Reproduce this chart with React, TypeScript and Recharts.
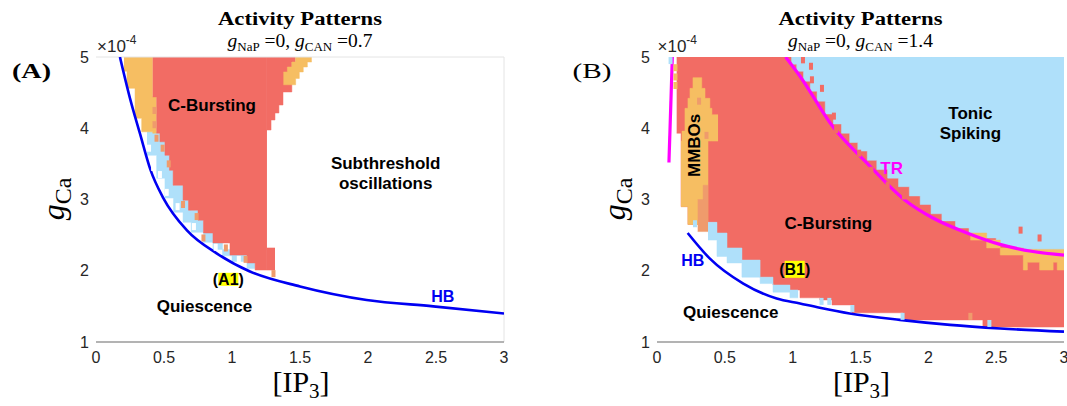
import {
    ComposedChart,
    Area,
    Line,
    Scatter,
    XAxis,
    YAxis,
    ReferenceDot,
    ReferenceLine,
} from 'recharts'

type Band = { x: number; r: [number, number] }
type Pt = { x: number; y: number }

const SANS = "'Liberation Sans', Arial, Helvetica, sans-serif"
const SERIF = "'Liberation Serif', 'DejaVu Serif', 'Times New Roman', serif"

const RED = '#f26c64'
const ORANGE = '#f6be62'
const DARK_ORANGE = '#ef9b6c'
const SKY = '#afe0fa'
const HB_BLUE = '#0000f2'
const MAGENTA = '#ff00ff'

const ipTicks = [0, 0.5, 1, 1.5, 2, 2.5, 3]
const gcaTicks = [1, 2, 3, 4, 5]

// ---- panel A: gCAN = 0.7 ----
const hbA: Pt[] = [
    { x: 0.176, y: 5.0 },
    { x: 0.25, y: 4.42 },
    { x: 0.324, y: 3.92 },
    { x: 0.4, y: 3.42 },
    { x: 0.495, y: 3.02 },
    { x: 0.667, y: 2.57 },
    { x: 0.887, y: 2.245 },
    { x: 1.132, y: 1.99 },
    { x: 1.5, y: 1.78 },
    { x: 1.99, y: 1.59 },
    { x: 2.48, y: 1.5 },
    { x: 3.0, y: 1.4 },
]

// column ranges [low, high] of gCa, each column runs to the next x (step after)
const burstA: Band[] = [
    { x: 0.417, r: [4.44, 5] },
    { x: 0.446, r: [3.93, 5] },
    { x: 0.47, r: [3.81, 5] },
    { x: 0.507, r: [3.62, 5] },
    { x: 0.54, r: [3.41, 5] },
    { x: 0.567, r: [3.2, 5] },
    { x: 0.64, r: [2.99, 5] },
    { x: 0.68, r: [2.85, 5] },
    { x: 0.75, r: [2.71, 5] },
    { x: 0.79, r: [2.53, 5] },
    { x: 0.86, r: [2.39, 5] },
    { x: 0.985, r: [2.22, 5] },
    { x: 1.11, r: [2.11, 5] },
    { x: 1.17, r: [2.01, 5] },
    { x: 1.257, r: [2.01, 5] },
]
const burstEdgeA: Band[] = [
    { x: 1.257, r: [3.975, 5] },
    { x: 1.287, r: [4.116, 5] },
    { x: 1.316, r: [4.214, 5] },
    { x: 1.345, r: [4.326, 5] },
    { x: 1.375, r: [4.509, 5] },
    { x: 1.44, r: [4.93, 5] },
    { x: 1.468, r: [4.93, 5] },
]
const burstFootA: Band[] = [
    { x: 1.257, r: [2.01, 2.32] },
    { x: 1.316, r: [2.01, 2.32] },
]
const mixedTopA: Band[] = [
    { x: 1.378, r: [4.61, 4.79] },
    { x: 1.407, r: [4.61, 4.86] },
    { x: 1.44, r: [4.61, 4.93] },
    { x: 1.468, r: [4.7, 5] },
    { x: 1.495, r: [4.79, 5] },
    { x: 1.524, r: [4.86, 5] },
    { x: 1.554, r: [4.93, 5] },
    { x: 1.586, r: [4.93, 5] },
]
const mixedLeftA: Band[] = [
    { x: 0.206, r: [4.8, 5] },
    { x: 0.228, r: [4.56, 5] },
    { x: 0.287, r: [4.14, 5] },
    { x: 0.336, r: [3.95, 5] },
    { x: 0.417, r: [3.93, 4.44] },
    { x: 0.446, r: [3.93, 4.44] },
]
const spikingA: Band[] = [
    { x: 0.375, r: [3.62, 3.95] },
    { x: 0.446, r: [3.3, 3.93] },
    { x: 0.507, r: [3.02, 3.62] },
    { x: 0.57, r: [2.82, 3.2] },
    { x: 0.64, r: [2.68, 2.99] },
    { x: 0.7, r: [2.54, 2.85] },
    { x: 0.79, r: [2.4, 2.53] },
    { x: 0.86, r: [2.3, 2.39] },
    { x: 0.93, r: [2.21, 2.3] },
    { x: 1.0, r: [2.13, 2.22] },
    { x: 1.11, r: [2.03, 2.11] },
    { x: 1.17, r: [2.03, 2.11] },
]
const blankCellsA: Pt[] = [
    { x: 0.39, y: 3.72 },
    { x: 0.42, y: 3.45 },
    { x: 0.47, y: 3.35 },
    { x: 0.52, y: 3.1 },
    { x: 0.6, y: 2.9 },
    { x: 0.72, y: 2.62 },
    { x: 0.88, y: 2.33 },
    { x: 1.05, y: 2.16 },
]
const darkCellsA: Pt[] = [
    { x: 0.43, y: 4.25 },
    { x: 0.43, y: 4.05 },
    { x: 0.445, y: 3.86 },
    { x: 0.49, y: 3.72 },
    { x: 0.535, y: 3.5 },
    { x: 0.64, y: 2.93 },
    { x: 0.74, y: 2.76 },
    { x: 0.79, y: 2.46 },
    { x: 0.955, y: 2.32 },
    { x: 1.1, y: 2.16 },
    { x: 1.305, y: 1.96 },
]

// ---- panel B: gCAN = 1.4 ----
const hbB: Pt[] = [
    { x: 0.226, y: 2.53 },
    { x: 0.39, y: 2.17 },
    { x: 0.636, y: 1.82 },
    { x: 0.882, y: 1.61 },
    { x: 1.054, y: 1.54 },
    { x: 1.2, y: 1.48 },
    { x: 1.42, y: 1.4 },
    { x: 1.79, y: 1.31 },
    { x: 2.16, y: 1.24 },
    { x: 2.53, y: 1.19 },
    { x: 3.0, y: 1.145 },
]
const trB: Pt[] = [
    { x: 0.948, y: 5.0 },
    { x: 1.054, y: 4.73 },
    { x: 1.297, y: 4.02 },
    { x: 1.548, y: 3.51 },
    { x: 1.828, y: 2.99 },
    { x: 2.034, y: 2.74 },
    { x: 2.285, y: 2.53 },
    { x: 2.528, y: 2.37 },
    { x: 2.771, y: 2.27 },
    { x: 3.0, y: 2.22 },
]
const trStubB: Pt[] = [
    { x: 0.113, y: 5.0 },
    { x: 0.088, y: 3.52 },
]
const burstB: Band[] = [
    { x: 0.145, r: [3.93, 5] },
    { x: 0.177, r: [2.9, 5] },
    { x: 0.228, r: [2.65, 5] },
    { x: 0.376, r: [2.68, 5] },
    { x: 0.442, r: [2.53, 5] },
    { x: 0.516, r: [2.32, 5] },
    { x: 0.626, r: [2.15, 5] },
    { x: 0.685, r: [2.04, 5] },
    { x: 0.759, r: [1.91, 5] },
    { x: 0.855, r: [1.8, 5] },
    { x: 0.98, r: [1.73, 5] },
    { x: 1.054, r: [1.62, 5] },
    { x: 1.2, r: [1.59, 5] },
    { x: 1.29, r: [1.52, 5] },
    { x: 1.437, r: [1.41, 5] },
    { x: 1.813, r: [1.31, 5] },
    { x: 2.402, r: [1.21, 5] },
    { x: 3.0, r: [1.21, 5] },
]
const mmboB: Band[] = [
    { x: 0.177, r: [2.9, 3.82] },
    { x: 0.184, r: [2.9, 3.96] },
    { x: 0.206, r: [2.9, 4.28] },
    { x: 0.228, r: [2.65, 4.42] },
    { x: 0.243, r: [2.65, 4.56] },
    { x: 0.265, r: [2.65, 4.71] },
    { x: 0.33, r: [2.65, 4.56] },
    { x: 0.354, r: [2.65, 4.42] },
    { x: 0.376, r: [3.82, 4.42] },
    { x: 0.39, r: [3.82, 4.28] },
    { x: 0.405, r: [3.82, 4.19] },
    { x: 0.45, r: [3.82, 4.19] },
]
const mmboDarkB: Band[] = [
    { x: 0.3, r: [2.55, 3.0] },
    { x: 0.34, r: [2.55, 3.2] },
    { x: 0.376, r: [2.55, 3.2] },
]
const spikingBandB: Band[] = [
    { x: 0.376, r: [2.43, 2.68] },
    { x: 0.442, r: [2.2, 2.53] },
    { x: 0.516, r: [2.11, 2.32] },
    { x: 0.626, r: [1.91, 2.15] },
    { x: 0.76, r: [1.82, 1.91] },
    { x: 0.855, r: [1.7, 1.8] },
    { x: 0.98, r: [1.62, 1.73] },
    { x: 1.04, r: [1.62, 1.73] },
]
const tonicB: Band[] = [
    { x: 0.99, r: [4.9, 5] },
    { x: 1.03, r: [4.8, 5] },
    { x: 1.08, r: [4.66, 5] },
    { x: 1.13, r: [4.52, 5] },
    { x: 1.18, r: [4.38, 5] },
    { x: 1.24, r: [4.2, 5] },
    { x: 1.3, r: [4.06, 5] },
    { x: 1.36, r: [3.93, 5] },
    { x: 1.42, r: [3.8, 5] },
    { x: 1.48, r: [3.68, 5] },
    { x: 1.55, r: [3.55, 5] },
    { x: 1.62, r: [3.42, 5] },
    { x: 1.7, r: [3.3, 5] },
    { x: 1.78, r: [3.18, 5] },
    { x: 1.86, r: [3.05, 5] },
    { x: 1.94, r: [2.93, 5] },
    { x: 2.02, r: [2.8, 5] },
    { x: 2.1, r: [2.7, 5] },
    { x: 2.2, r: [2.6, 5] },
    { x: 2.3, r: [2.52, 5] },
    { x: 2.4, r: [2.46, 5] },
    { x: 2.5, r: [2.36, 5] },
    { x: 2.6, r: [2.32, 5] },
    { x: 2.7, r: [2.3, 5] },
    { x: 2.8, r: [2.29, 5] },
    { x: 3.0, r: [2.29, 5] },
]
const mixedTrB: Band[] = [
    { x: 2.31, r: [2.43, 2.53] },
    { x: 2.43, r: [2.32, 2.43] },
    { x: 2.53, r: [2.22, 2.32] },
    { x: 2.7, r: [2.01, 2.3] },
    { x: 2.73, r: [2.12, 2.3] },
    { x: 2.82, r: [2.01, 2.3] },
    { x: 2.92, r: [2.12, 2.3] },
    { x: 2.95, r: [2.01, 2.3] },
    { x: 3.0, r: [2.01, 2.3] },
]
const burstCellsB: Pt[] = [
    { x: 1.076, y: 4.96 },
    { x: 1.135, y: 4.87 },
    { x: 1.142, y: 4.68 },
    { x: 1.216, y: 4.56 },
    { x: 1.304, y: 4.17 },
    { x: 1.32, y: 3.98 },
    { x: 1.49, y: 3.65 },
    { x: 1.58, y: 3.41 },
    { x: 1.7, y: 3.2 },
    { x: 1.82, y: 3.05 },
    { x: 2.68, y: 2.57 },
    { x: 2.82, y: 2.46 },
]
const spikingCellsB: Pt[] = [
    { x: 0.1, y: 4.95 },
    { x: 0.28, y: 2.66 },
    { x: 1.213, y: 1.57 },
    { x: 1.27, y: 1.57 },
    { x: 1.44, y: 1.47 },
    { x: 1.81, y: 1.36 },
    { x: 2.45, y: 1.26 },
]
const mixedCellsB: Pt[] = [
    { x: 0.136, y: 4.85 },
    { x: 0.136, y: 4.72 },
    { x: 0.136, y: 4.6 },
]
const darkCellsB: Pt[] = [
    { x: 0.31, y: 4.38 },
    { x: 0.365, y: 3.9 },
    { x: 2.31, y: 1.36 },
]

const IpTick = (props: any) => (
    <text
        x={props.x}
        y={props.y + 21}
        textAnchor="middle"
        fontSize={16}
        fontFamily={SANS}
        fill="#262626"
    >
        {props.payload.value}
    </text>
)

const GcaTick = (props: any) => (
    <text
        x={props.x - 7}
        y={props.y + 5.5}
        textAnchor="end"
        fontSize={16}
        fontFamily={SANS}
        fill="#262626"
    >
        {props.payload.value}
    </text>
)

const axes = [
    <XAxis
        key="x"
        type="number"
        dataKey="x"
        domain={[0, 3]}
        ticks={ipTicks}
        interval={0}
        allowDataOverflow
        height={30}
        tickSize={0}
        tickMargin={0}
        tickLine={false}
        axisLine={{ stroke: '#9a9a9a', strokeWidth: 1.5 }}
        tick={<IpTick />}
    />,
    <YAxis
        key="y"
        type="number"
        domain={[1, 5]}
        ticks={gcaTicks}
        interval={0}
        allowDataOverflow
        width={30}
        tickSize={0}
        tickMargin={0}
        tickLine={false}
        axisLine={false}
        tick={<GcaTick />}
    />,
]

const region = (key: string, data: Band[], fill: string) => (
    <Area
        key={key}
        data={data}
        dataKey="r"
        type="stepAfter"
        fill={fill}
        fillOpacity={1}
        stroke={fill}
        strokeWidth={0.5}
        dot={false}
        activeDot={false}
        isAnimationActive={false}
    />
)

const cells = (key: string, data: Pt[], fill: string) => (
    <Scatter
        key={key}
        data={data}
        dataKey="y"
        isAnimationActive={false}
        shape={(p: any) => (
            <rect x={p.cx - 2} y={p.cy - 3.5} width={4} height={7} fill={fill} />
        )}
    />
)

const curve = (key: string, data: Pt[], color: string, width: number, type: any = 'monotone') => (
    <Line
        key={key}
        data={data}
        dataKey="y"
        type={type}
        stroke={color}
        strokeWidth={width}
        dot={false}
        activeDot={false}
        isAnimationActive={false}
    />
)

type TagOpts = { size?: number; angle?: number; mark?: [number, number] }

const tag = (key: string, x: number, y: number, text: string, color = '#000', opts: TagOpts = {}) => (
    <ReferenceDot
        key={key}
        x={x}
        y={y}
        r={0}
        fill="none"
        stroke="none"
        label={(p: any) => {
            const vb = p.viewBox || p
            const cx = vb.x + (vb.width || 0) / 2
            const cy = vb.y + (vb.height || 0) / 2
            const size = opts.size ?? 17
            return (
                <g transform={opts.angle ? `rotate(${opts.angle} ${cx} ${cy})` : undefined}>
                    {opts.mark && (
                        <rect
                            x={cx - opts.mark[0] / 2}
                            y={cy - opts.mark[1] / 2}
                            width={opts.mark[0]}
                            height={opts.mark[1]}
                            fill="#ffff00"
                        />
                    )}
                    <text
                        x={cx}
                        y={cy + size * 0.36}
                        textAnchor="middle"
                        fontSize={size}
                        fontWeight={700}
                        fontFamily={SANS}
                        fill={color}
                    >
                        {text}
                    </text>
                </g>
            )
        }}
    />
)

const PanelA = () => (
    <ComposedChart width={530} height={406} margin={{ top: 57, right: 26, bottom: 34, left: 66 }}>
        {axes}
        <ReferenceLine y={5} stroke="#e4e4e4" strokeWidth={1} />
        <ReferenceLine x={3} stroke="#e4e4e4" strokeWidth={1} />
        {region('spiking', spikingA, SKY)}
        {cells('blank', blankCellsA, '#ffffff')}
        {region('mixedLeft', mixedLeftA, ORANGE)}
        {region('burst', burstA, RED)}
        {region('burstEdge', burstEdgeA, RED)}
        {region('burstFoot', burstFootA, RED)}
        {region('mixedTop', mixedTopA, ORANGE)}
        {cells('dark', darkCellsA, DARK_ORANGE)}
        {curve('hb', hbA, HB_BLUE, 2.6)}
        {tag('cb', 0.853, 4.33, 'C-Bursting')}
        {tag('sub1', 2.13, 3.51, 'Subthreshold')}
        {tag('sub2', 2.13, 3.24, 'oscillations')}
        {tag('a1', 0.973, 1.88, '(A1)', '#000', { size: 16, mark: [20, 13] })}
        {tag('q', 0.797, 1.5, 'Quiescence')}
        {tag('hbl', 2.55, 1.64, 'HB', HB_BLUE, { size: 16 })}
    </ComposedChart>
)

const PanelB = () => (
    <ComposedChart width={507} height={406} margin={{ top: 57, right: 3, bottom: 34, left: 67 }}>
        {axes}
        {region('burst', burstB, RED)}
        {region('mmbo', mmboB, ORANGE)}
        {region('mmboDark', mmboDarkB, DARK_ORANGE)}
        {region('spikingBand', spikingBandB, SKY)}
        {region('tonic', tonicB, SKY)}
        {region('mixedTr', mixedTrB, ORANGE)}
        {cells('burstCells', burstCellsB, RED)}
        {cells('spikingCells', spikingCellsB, SKY)}
        {cells('mixedCells', mixedCellsB, ORANGE)}
        {cells('darkCells', darkCellsB, DARK_ORANGE)}
        {curve('hb', hbB, HB_BLUE, 2.6)}
        {curve('tr', trB, MAGENTA, 3.2)}
        {curve('trStub', trStubB, MAGENTA, 3.2, 'linear')}
        {tag('t1', 2.31, 4.21, 'Tonic')}
        {tag('t2', 2.31, 3.93, 'Spiking')}
        {tag('trl', 1.73, 3.45, 'TR', MAGENTA)}
        {tag('mmbos', 0.273, 3.76, 'MMBOs', '#000', { angle: -90 })}
        {tag('cb', 1.263, 2.67, 'C-Bursting')}
        {tag('b1', 1.015, 2.02, '(B1)', '#000', { size: 16, mark: [20, 17] })}
        {tag('hbl', 0.263, 2.15, 'HB', HB_BLUE, { size: 16 })}
        {tag('q', 0.543, 1.42, 'Quiescence')}
    </ComposedChart>
)

// titles, panel letters and axis names drawn over both panels
const Headings = ({ cx, letter, can, bold }: { cx: number; letter: string; can: string; bold: boolean }) => {
    const left = cx - 204
    return (
        <g>
            <text x={cx} y={25} textAnchor="middle" fontFamily={SERIF} fontWeight={700} fontSize={18} textLength={164} lengthAdjust="spacingAndGlyphs">
                Activity Patterns
            </text>
            <text x={cx} y={47} textAnchor="middle" fontFamily={SERIF} fontSize={19.5}>
                <tspan fontStyle="italic">g</tspan>
                <tspan fontSize={13} dy={4}>NaP</tspan>
                <tspan dy={-4}> =0, </tspan>
                <tspan fontStyle="italic">g</tspan>
                <tspan fontSize={13} dy={4}>CAN</tspan>
                <tspan dy={-4}> ={can}</tspan>
            </text>
            <text x={left - 84} y={78} fontFamily={SERIF} fontWeight={bold ? 700 : 400} fontSize={21} textLength={39} lengthAdjust="spacingAndGlyphs">
                {letter}
            </text>
            <text x={left + 1} y={52} fontFamily={SANS} fontSize={17} fill="#262626">
                ×10
                <tspan fontSize={12} dy={-8}>-4</tspan>
            </text>
            <text x={cx + 1} y={392} textAnchor="middle" fontFamily={SERIF} fontSize={30}>
                [IP
                <tspan fontSize={21} dy={6}>3</tspan>
                <tspan dy={-6}>]</tspan>
            </text>
            <text transform={`translate(${left - 32},199) rotate(-90)`} textAnchor="middle" fontFamily={SERIF}>
                <tspan fontStyle="italic" fontSize={32}>g</tspan>
                <tspan fontSize={24} dy={7}>Ca</tspan>
            </text>
        </g>
    )
}

export default function App() {
    return (
        <div style={{ position: 'absolute', left: 0, top: 0, width: 1067, height: 406, background: '#fff', overflow: 'hidden' }}>
            <div style={{ position: 'absolute', left: 0, top: 0 }}>
                <PanelA />
            </div>
            <div style={{ position: 'absolute', left: 560, top: 0 }}>
                <PanelB />
            </div>
            <svg width={1067} height={406} style={{ position: 'absolute', left: 0, top: 0, pointerEvents: 'none' }}>
                <Headings cx={300} letter="(A)" can="0.7" bold />
                <Headings cx={860.5} letter="(B)" can="1.4" bold={false} />
            </svg>
        </div>
    )
}
